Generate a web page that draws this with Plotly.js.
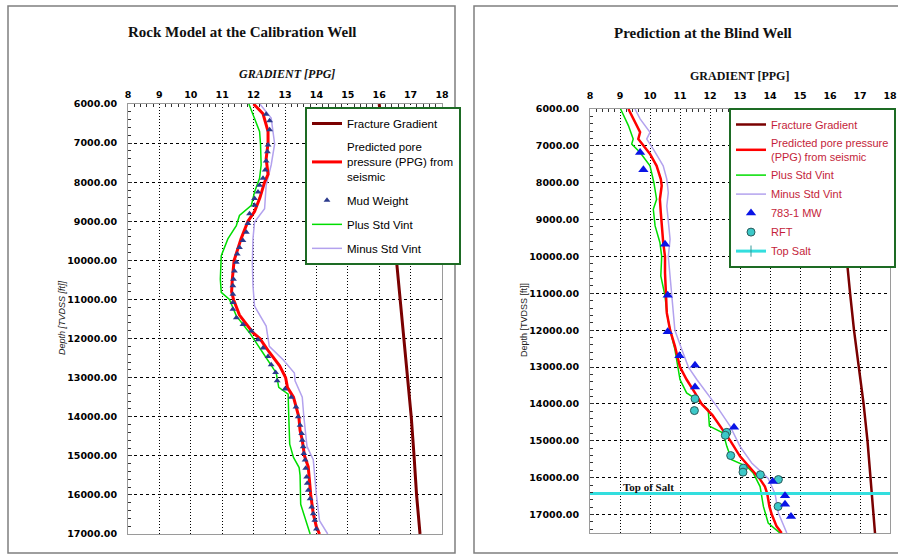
<!DOCTYPE html>
<html>
<head>
<meta charset="utf-8">
<script src="https://cdn.plot.ly/plotly-3.0.1.min.js"></script>
<style>html,body{margin:0;padding:0;background:#fff;}#chart{width:898px;height:556px;}</style>
</head>
<body>
<div id="chart"></div>
<script>
// ---------- LEFT: Rock Model at the Calibration Well ----------
const leftFGDepth = [6000, 7000, 8000, 9000, 10000, 11000, 12000, 13000, 14000, 15000, 16000, 17000];
const leftFG      = [16.0, 16.15, 16.3, 16.43, 16.55, 16.67, 16.79, 16.91, 17.02, 17.11, 17.19, 17.3];

const leftPredDepth = [6000, 6250, 6700, 7000, 7400, 7800, 8000, 8400, 8750, 9000, 9450, 10000, 10500, 10800, 11000, 11400, 11850, 12000, 12350, 12700, 13000, 13250, 13500, 14000, 14350, 14600, 15000, 15280, 16000, 16480, 16820, 17000];
const leftPred      = [12.0, 12.3, 12.46, 12.46, 12.4, 12.46, 12.35, 12.2, 12.03, 11.82, 11.6, 11.38, 11.32, 11.3, 11.36, 11.55, 11.98, 12.2, 12.5, 12.83, 13.02, 13.08, 13.27, 13.44, 13.48, 13.55, 13.62, 13.74, 13.82, 13.9, 14.0, 14.1];

const leftPlusDepth = [6000, 6360, 6700, 7020, 7560, 7900, 8250, 8590, 8850, 9110, 9450, 9880, 10480, 10820, 11000, 11420, 11850, 12370, 12880, 13250, 13420, 14000, 14700, 15040, 15300, 15500, 16240, 17000];
const leftPlus      = [11.85, 12.03, 12.19, 12.22, 12.24, 12.19, 12.03, 11.93, 11.55, 11.45, 11.18, 10.97, 10.94, 10.97, 11.23, 11.45, 11.87, 12.3, 12.72, 12.8, 13.1, 13.12, 13.15, 13.27, 13.45, 13.48, 13.5, 13.8];

const leftMinusDepth = [6000, 6360, 7020, 7560, 8080, 8680, 9020, 9450, 10050, 10650, 11170, 11680, 12200, 12540, 12880, 13080, 13500, 14000, 14760, 15100, 16000, 16660, 17000];
const leftMinus      = [12.2, 12.56, 12.67, 12.56, 12.4, 12.35, 12.03, 11.98, 11.96, 11.98, 12.03, 12.4, 12.5, 12.94, 13.3, 13.32, 13.55, 13.6, 13.7, 13.9, 14.0, 14.1, 14.36];

const leftMudDepth = [6260, 6430, 6660, 7050, 7220, 7460, 7690, 7900, 8080, 8250, 8420, 8590, 8810, 9060, 9280, 9490, 9670, 9840, 10050, 10270, 10480, 10650, 10870, 11080, 11250, 11470, 11640, 11810, 12030, 12240, 12460, 12670, 12870, 13080, 13290, 13500, 13750, 14000, 14220, 14430, 14600, 14770, 14940, 15110, 15320, 15540, 15700, 15880, 16100, 16310, 16480, 16650, 16870];
const leftMud      = [12.4, 12.51, 12.51, 12.46, 12.44, 12.4, 12.37, 12.3, 12.19, 12.14, 12.03, 12.03, 11.87, 11.82, 11.77, 11.66, 11.55, 11.48, 11.45, 11.39, 11.36, 11.34, 11.34, 11.34, 11.34, 11.45, 11.66, 11.93, 12.14, 12.3, 12.46, 12.56, 12.7, 12.75, 13.0, 13.2, 13.35, 13.42, 13.48, 13.53, 13.55, 13.58, 13.6, 13.64, 13.66, 13.69, 13.71, 13.74, 13.8, 13.85, 13.9, 13.95, 14.0];

// ---------- RIGHT: Prediction at the Blind Well ----------
const rightFGDepth = [6000, 7000, 8000, 9000, 10000, 11000, 12000, 13000, 14000, 15000, 16000, 17000, 17500];
const rightFG      = [16.05, 16.18, 16.31, 16.43, 16.55, 16.67, 16.8, 16.96, 17.12, 17.25, 17.35, 17.45, 17.5];

const rightPredDepth = [6000, 6270, 6630, 6815, 7000, 7220, 7540, 7900, 8080, 8450, 8810, 9170, 9620, 10000, 10440, 10980, 11530, 12000, 12430, 13000, 13337, 13700, 14000, 14300, 14650, 15000, 15420, 15780, 16020, 16240, 16440, 16780, 17000, 17320, 17500];
const rightPred      = [9.28, 9.44, 9.67, 9.61, 9.78, 10.0, 10.22, 10.36, 10.39, 10.33, 10.36, 10.39, 10.44, 10.5, 10.5, 10.53, 10.56, 10.67, 10.83, 11.0, 11.22, 11.5, 11.72, 12.08, 12.38, 12.68, 13.0, 13.39, 13.65, 13.83, 13.91, 13.98, 14.06, 14.22, 14.39];

const rightPlusDepth = [6000, 6450, 6815, 6950, 7180, 7540, 8000, 8450, 8720, 9170, 9620, 10000, 10530, 11070, 11520, 12000, 12520, 13000, 13337, 13700, 13880, 14150, 14600, 14790, 15150, 15510, 15690, 15870, 16240, 16780, 17230, 17500];
const rightPlus      = [9.02, 9.28, 9.44, 9.39, 9.67, 10.0, 10.13, 10.22, 10.11, 10.17, 10.33, 10.39, 10.36, 10.5, 10.56, 10.67, 10.83, 10.94, 11.0, 11.22, 11.56, 11.94, 11.98, 12.44, 12.56, 12.72, 13.22, 13.44, 13.67, 13.78, 13.94, 14.33];

const rightMinusDepth = [6000, 6270, 6630, 6815, 7090, 7540, 7900, 8270, 8630, 9000, 9530, 10000, 10530, 11160, 12000, 12520, 13000, 13337, 13700, 14060, 14600, 15150, 15600, 16020, 16440, 16960, 17500];
const rightMinus      = [9.5, 9.67, 10.0, 9.89, 10.11, 10.44, 10.56, 10.61, 10.56, 10.61, 10.67, 10.61, 10.67, 10.72, 10.83, 11.06, 11.28, 11.56, 11.89, 12.22, 12.67, 13.0, 13.39, 13.94, 14.17, 14.28, 14.56];

const mwDepth = [7180, 7650, 9670, 11050, 12040, 12690, 12950, 13540, 14630, 16100, 16490, 16720, 17050];
const mwValue = [9.67, 9.78, 10.5, 10.59, 10.59, 10.98, 11.5, 11.5, 12.8, 14.09, 14.5, 14.5, 14.7];

const rftDepth = [13860, 14180, 14770, 14850, 15400, 15740, 15850, 15920, 16050, 16780];
const rftValue = [11.5, 11.48, 12.56, 12.51, 12.69, 13.11, 13.1, 13.68, 14.28, 14.27];

const topSaltX = [7.9, 18.1];
const topSaltDepth = [16430, 16430];

// ---------- Text ----------
const leftTitle = 'Rock Model at the Calibration Well';
const rightTitle = 'Prediction at the Blind Well';
const xTitle = 'GRADIENT [PPG]';
const yTitle = 'Depth [TVDSS [ft]]';

const W = 898, H = 556;
const px = v => v / W;
const py = v => 1 - v / H;

const C_FG = '#7a0000', C_PRED = '#ff0000', C_PLUS = '#00dd00', C_MINUS = '#b3a2ee';

const traces = [
  // Left
  {x: leftFG, y: leftFGDepth, xaxis: 'x', yaxis: 'y', mode: 'lines', name: 'Fracture Gradient',
   line: {color: C_FG, width: 3}, legend: 'legend', legendgroup: 'l1', legendrank: 1},
  {x: leftPlus, y: leftPlusDepth, xaxis: 'x', yaxis: 'y', mode: 'lines', name: 'Plus Std Vint',
   line: {color: C_PLUS, width: 1.5}, legend: 'legend', legendgroup: 'l4', legendrank: 4},
  {x: leftMinus, y: leftMinusDepth, xaxis: 'x', yaxis: 'y', mode: 'lines', name: 'Minus Std Vint',
   line: {color: C_MINUS, width: 1.5}, legend: 'legend', legendgroup: 'l5', legendrank: 5},
  {x: leftPred, y: leftPredDepth, xaxis: 'x', yaxis: 'y', mode: 'lines', name: 'Predicted pore<br>pressure (PPG) from<br>seismic',
   line: {color: C_PRED, width: 3}, legend: 'legend', legendgroup: 'l2', legendrank: 2},
  {x: leftMud, y: leftMudDepth, xaxis: 'x', yaxis: 'y', mode: 'markers', name: 'Mud Weight',
   marker: {symbol: 'triangle-up', size: 6, color: '#2b3a8c'}, legend: 'legend', legendgroup: 'l3', legendrank: 3},
  // Right
  {x: rightFG, y: rightFGDepth, xaxis: 'x2', yaxis: 'y2', mode: 'lines', name: 'Fracture Gradient',
   line: {color: C_FG, width: 2.5}, legend: 'legend2', legendgroup: 'r1', legendrank: 1},
  {x: rightPlus, y: rightPlusDepth, xaxis: 'x2', yaxis: 'y2', mode: 'lines', name: 'Plus Std Vint',
   line: {color: C_PLUS, width: 1.5}, legend: 'legend2', legendgroup: 'r3', legendrank: 3},
  {x: rightMinus, y: rightMinusDepth, xaxis: 'x2', yaxis: 'y2', mode: 'lines', name: 'Minus Std Vint',
   line: {color: C_MINUS, width: 1.5}, legend: 'legend2', legendgroup: 'r4', legendrank: 4},
  {x: rightPred, y: rightPredDepth, xaxis: 'x2', yaxis: 'y2', mode: 'lines', name: 'Predicted pore pressure<br>(PPG) from seismic',
   line: {color: C_PRED, width: 2.5}, legend: 'legend2', legendgroup: 'r2', legendrank: 2},
  {x: topSaltX, y: topSaltDepth, xaxis: 'x2', yaxis: 'y2', mode: 'lines+markers', name: 'Top Salt',
   line: {color: '#33dede', width: 3}, marker: {symbol: 'line-ns-open', size: 8, color: '#339999', line: {width: 1, color: '#336666'}},
   legend: 'legend2', legendgroup: 'r7', legendrank: 7},
  {x: rftValue, y: rftDepth, xaxis: 'x2', yaxis: 'y2', mode: 'markers', name: 'RFT',
   marker: {symbol: 'circle', size: 8, color: '#3cc8c8', line: {width: 1, color: '#2a5a5a'}},
   legend: 'legend2', legendgroup: 'r6', legendrank: 6},
  {x: mwValue, y: mwDepth, xaxis: 'x2', yaxis: 'y2', mode: 'markers', name: '783-1 MW',
   marker: {symbol: 'triangle-up', size: 9, color: '#0a14e6'}, legend: 'legend2', legendgroup: 'r5', legendrank: 5}
];

const tickFont = {family: 'DejaVu Sans', size: 9.5, weight: 'bold', color: '#000'};

function xAxis(domain, anchor, standoff) {
  return {
    domain: domain, anchor: anchor, side: 'top', range: [8, 18], dtick: 1, tick0: 8,
    tickfont: tickFont, ticks: '', ticklabelstandoff: standoff,
    showgrid: true, gridcolor: '#000', griddash: '1px,2px', gridwidth: 1,
    showline: true, linecolor: '#9a9a9a', linewidth: 1, mirror: true, zeroline: false,
    minor: {dtick: 0.2, ticks: 'inside', ticklen: 3, tickcolor: '#333', showgrid: false},
    fixedrange: true
  };
}
function yAxis(domain, anchor, range) {
  return {
    domain: domain, anchor: anchor, range: range, dtick: 1000, tick0: 6000, tickformat: '.2f',
    tickfont: tickFont, ticks: 'inside', ticklen: 4, tickcolor: '#333', ticklabelstandoff: 8,
    showgrid: true, gridcolor: '#000', griddash: '3px,3px', gridwidth: 1,
    showline: true, linecolor: '#9a9a9a', linewidth: 1, mirror: true, zeroline: false,
    minor: {dtick: 200, ticks: 'inside', ticklen: 3, tickcolor: '#333', showgrid: false},
    fixedrange: true
  };
}

const layout = {
  width: W, height: H,
  margin: {l: 0, r: 0, t: 0, b: 0},
  paper_bgcolor: '#fff', plot_bgcolor: '#fff',
  font: {family: 'Liberation Sans', color: '#000'},
  xaxis: xAxis([px(128), px(442)], 'y', 1),
  yaxis: yAxis([1 - 534 / H, 1 - 104 / H], 'x', [17000, 6000]),
  xaxis2: xAxis([px(590), px(890)], 'y2', 5),
  yaxis2: yAxis([1 - 533 / H, 1 - 109 / H], 'x2', [17500, 6000]),
  legend: {
    x: px(305), y: py(107), xanchor: 'left', yanchor: 'top',
    bgcolor: '#fff', bordercolor: '#1d6b24', borderwidth: 2,
    font: {family: 'Liberation Sans', size: 11.5, color: '#000'},
    tracegroupgap: 5, itemwidth: 30, traceorder: 'grouped'
  },
  legend2: {
    x: px(729), y: py(108), xanchor: 'left', yanchor: 'top',
    bgcolor: '#fff', bordercolor: '#1d6b24', borderwidth: 2,
    font: {family: 'Liberation Sans', size: 11, color: '#c41e3a'},
    tracegroupgap: 0, itemwidth: 30, traceorder: 'grouped'
  },
  shapes: [
    {type: 'rect', xref: 'paper', yref: 'paper', x0: px(8), x1: px(455), y0: py(553), y1: py(6),
     line: {color: '#7f7f7f', width: 1.5}, layer: 'below'},
    {type: 'rect', xref: 'paper', yref: 'paper', x0: px(474), x1: px(905), y0: py(553), y1: py(6),
     line: {color: '#7f7f7f', width: 1.5}, layer: 'below'}
  ],
  annotations: [
    {text: leftTitle, xref: 'paper', yref: 'paper', x: px(242), y: py(32), showarrow: false,
     xanchor: 'center', yanchor: 'middle', font: {family: 'Liberation Serif', size: 15, weight: 'bold', color: '#111'}},
    {text: rightTitle, xref: 'paper', yref: 'paper', x: px(703), y: py(33), showarrow: false,
     xanchor: 'center', yanchor: 'middle', font: {family: 'Liberation Serif', size: 15, weight: 'bold', color: '#111'}},
    {text: xTitle, xref: 'paper', yref: 'paper', x: px(287), y: py(74), showarrow: false,
     xanchor: 'center', yanchor: 'middle', font: {family: 'Liberation Serif', size: 12, weight: 'bold', style: 'italic', color: '#111'}},
    {text: xTitle, xref: 'paper', yref: 'paper', x: px(739), y: py(76), showarrow: false,
     xanchor: 'center', yanchor: 'middle', font: {family: 'Liberation Serif', size: 12, weight: 'bold', color: '#111'}},
    {text: yTitle, xref: 'paper', yref: 'paper', x: px(62), y: py(317), showarrow: false, textangle: -90,
     xanchor: 'center', yanchor: 'middle', font: {family: 'Liberation Sans', size: 9, style: 'italic', color: '#222'}},
    {text: yTitle, xref: 'paper', yref: 'paper', x: px(524), y: py(320), showarrow: false, textangle: -90,
     xanchor: 'center', yanchor: 'middle', font: {family: 'Liberation Sans Narrow, Liberation Sans', size: 9, color: '#222'}},
    {text: 'Top of Salt', xref: 'x2', yref: 'y2', x: 9.02, y: 16430, showarrow: false,
     xanchor: 'left', yanchor: 'bottom', yshift: -1, font: {family: 'Liberation Serif', size: 11, weight: 'bold', color: '#111'}}
  ]
};

Plotly.newPlot('chart', traces, layout, {displayModeBar: false, staticPlot: true});
</script>
</body>
</html>
